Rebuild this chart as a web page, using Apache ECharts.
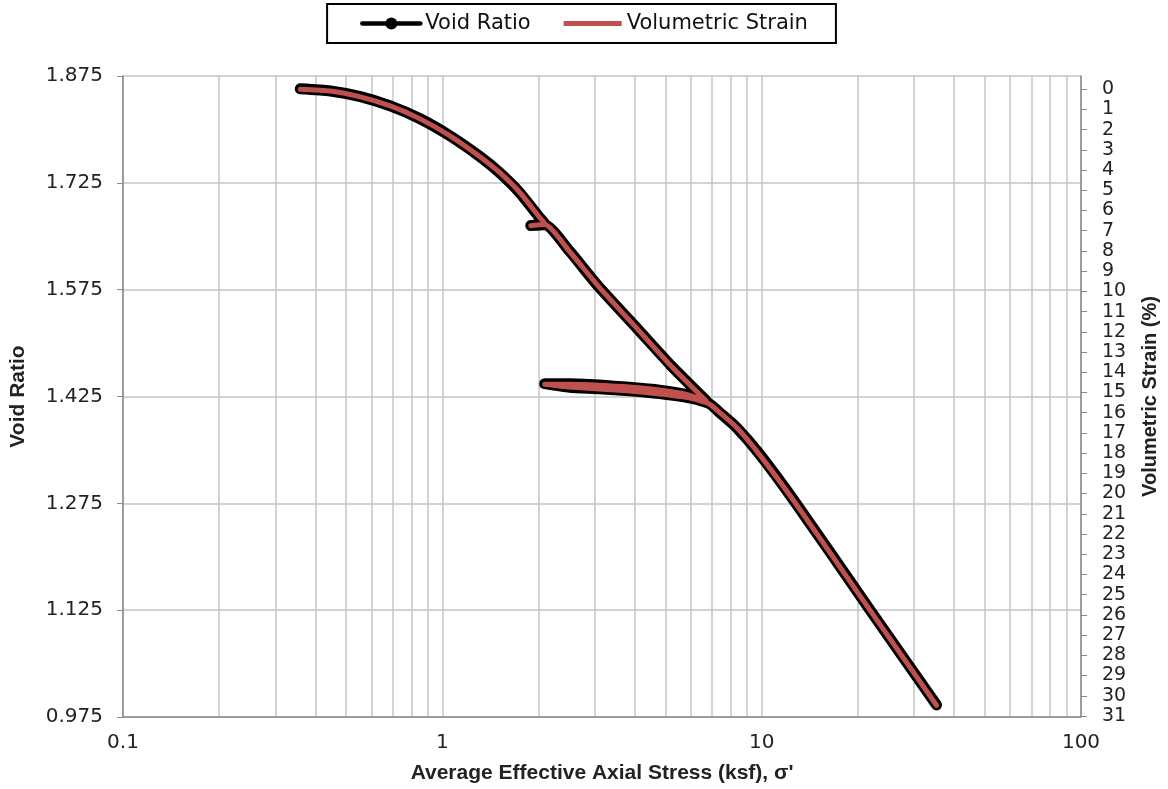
<!DOCTYPE html>
<html>
<head>
<meta charset="utf-8">
<script src="https://cdn.jsdelivr.net/npm/echarts@6/dist/echarts.min.js"></script>
<style>
  html, body { margin: 0; padding: 0; background: #fff; }
  #chart { width: 1168px; height: 789px; }
</style>
</head>
<body>
<div id="chart"></div>
<script>
// stress path: load, small unload/reload near 2 ksf, unload/reload loop at ~6.7 ksf, load to end
const stress = [
  0.359, 0.446, 0.554, 0.687, 0.852, 1.057, 1.311, 1.514, 1.749, 2.018, 2.092,
  1.892, 2.092,
  2.504, 3.063, 4.142, 5.213, 6.706,
  5.934, 4.784, 3.855, 3.106, 2.504, 2.092,
  2.504, 3.106, 3.855, 4.784, 5.934, 6.853,
  7.362, 8.321, 9.815, 12.62, 21.64, 35.28
]
const voidRatio = [
  1.857, 1.854, 1.846, 1.833, 1.815, 1.791, 1.762, 1.739, 1.711, 1.676, 1.668,
  1.665, 1.666,
  1.629, 1.581, 1.517, 1.468, 1.419,
  1.427, 1.434, 1.438, 1.441, 1.443, 1.443,
  1.438, 1.436, 1.433, 1.429, 1.423, 1.415,
  1.403, 1.382, 1.345, 1.279, 1.128, 0.992
]
const volStrain = [
  0.00, 0.09, 0.38, 0.83, 1.47, 2.31, 3.34, 4.13, 5.11, 6.35, 6.65,
  6.75, 6.70,
  8.03, 9.70, 11.97, 13.70, 15.42,
  15.13, 14.88, 14.73, 14.64, 14.59, 14.59,
  14.73, 14.83, 14.93, 15.08, 15.27, 15.57,
  15.97, 16.71, 18.05, 20.37, 25.68, 30.47
]
const xTicks = [0.1, 0.2, 0.3, 0.4, 0.5, 0.6, 0.7, 0.8, 0.9,
  1, 2, 3, 4, 5, 6, 7, 8, 9,
  10, 20, 30, 40, 50, 60, 70, 80, 90, 100]
const xLabels = [0.1, 1, 10, 100]
const yTicks = [0.975, 1.125, 1.275, 1.425, 1.575, 1.725, 1.875]
const strainTicks = [0, 1, 2, 3, 4, 5, 6, 7, 8, 9, 10, 11, 12, 13, 14, 15,
  16, 17, 18, 19, 20, 21, 22, 23, 24, 25, 26, 27, 28, 29, 30, 31]

const chart = echarts.init(document.getElementById('chart'))

const tickFont = 'DejaVu Sans, sans-serif'
const titleFont = 'Liberation Sans, Arial, sans-serif'
const gridColor = '#c4c4c4'
const axisColor = '#8a8a8a'

const option = {
  animation: false,
  legend: {
    top: 4,
    left: 'center',
    padding: [9, 28, 9, 33],
    itemGap: 33,
    itemWidth: 58,
    itemHeight: 15,
    itemTextGap: 2,
    borderColor: '#000',
    borderWidth: 2,
    textStyle: { fontFamily: tickFont, fontSize: 21, color: '#111' },
    data: [
      { name: 'Void Ratio', lineStyle: { width: 4.5 } },
      { name: 'Volumetric Strain', icon: 'path://M0,0 H58 V5 H0 Z' }
    ]
  },
  grid: { left: 122, right: 85, top: 76, bottom: 70, containLabel: false },
  xAxis: {
    type: 'log',
    min: 0.1,
    max: 100,
    logBase: 10,
    name: "Average Effective Axial Stress (ksf), σ'",
    nameLocation: 'middle',
    nameGap: 46,
    nameTextStyle: { fontFamily: titleFont, fontSize: 21, fontWeight: 'bold', color: '#222' },
    axisLine: { onZero: false, lineStyle: { color: axisColor, width: 1.5 } },
    axisTick: { show: false, customValues: xTicks },
    axisLabel: {
      customValues: xLabels,
      fontFamily: tickFont, fontSize: 20, color: '#222', margin: 16,
      formatter: v => String(v)
    },
    splitLine: { show: true, lineStyle: { color: gridColor, width: 1.5 } }
  },
  yAxis: [
    {
      type: 'value',
      min: 0.975,
      max: 1.875,
      name: 'Void Ratio',
      nameLocation: 'middle',
      nameGap: 94,
      nameTextStyle: { fontFamily: titleFont, fontSize: 21, fontWeight: 'bold', color: '#222' },
      axisLine: { show: true, onZero: false, lineStyle: { color: axisColor, width: 1.5 } },
      axisTick: { show: true, length: 6, customValues: yTicks, lineStyle: { color: axisColor } },
      axisLabel: {
        customValues: yTicks,
        fontFamily: tickFont, fontSize: 20, color: '#222', margin: 20,
        formatter: v => v.toFixed(3)
      },
      splitLine: { show: true, lineStyle: { color: gridColor, width: 1.5 } }
    },
    {
      type: 'value',
      position: 'right',
      inverse: true,
      min: -0.65,
      max: 31.05,
      name: 'Volumetric Strain (%)',
      nameLocation: 'middle',
      nameGap: 59,
      nameRotate: 90,
      nameTextStyle: { fontFamily: titleFont, fontSize: 20, fontWeight: 'bold', color: '#222' },
      axisLine: { show: true, onZero: false, lineStyle: { color: axisColor, width: 1.5 } },
      axisTick: { show: true, length: 6, customValues: strainTicks, lineStyle: { color: axisColor } },
      axisLabel: {
        customValues: strainTicks,
        fontFamily: tickFont, fontSize: 19, color: '#222', margin: 21
      },
      splitLine: { show: false }
    }
  ],
  series: [
    {
      name: 'Void Ratio',
      type: 'line',
      yAxisIndex: 0,
      symbol: 'circle',
      showSymbol: false,
      smooth: 0.2,
      itemStyle: { color: '#000' },
      lineStyle: { color: '#000', width: 11, cap: 'round', join: 'round' },
      data: stress.map((s, i) => [s, voidRatio[i]])
    },
    {
      name: 'Volumetric Strain',
      type: 'line',
      yAxisIndex: 1,
      symbol: 'none',
      smooth: 0.2,
      itemStyle: { color: '#c0504d' },
      lineStyle: { color: '#c0504d', width: 5, cap: 'round', join: 'round' },
      data: stress.map((s, i) => [s, volStrain[i]])
    }
  ]
}

chart.setOption(option)
</script>
</body>
</html>
